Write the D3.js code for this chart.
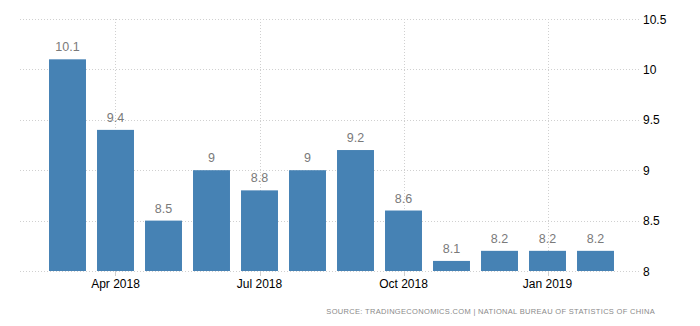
<!DOCTYPE html>
<html>
<head>
<meta charset="utf-8">
<script src="https://cdn.jsdelivr.net/npm/d3@7"></script>
<style>
  html, body { margin: 0; padding: 0; background: #fff; }
  svg { display: block; font-family: "Liberation Sans", Arial, sans-serif; }
</style>
</head>
<body>
<svg id="chart" width="700" height="326"></svg>
<script>
// Monthly series, Mar 2018 – Feb 2019
const months = ["Mar 2018", "Apr 2018", "May 2018", "Jun 2018", "Jul 2018", "Aug 2018",
                "Sep 2018", "Oct 2018", "Nov 2018", "Dec 2018", "Jan 2019", "Feb 2019"];
const values = [10.1, 9.4, 8.5, 9, 8.8, 9, 9.2, 8.6, 8.1, 8.2, 8.2, 8.2];
const xTickMonths = ["Apr 2018", "Jul 2018", "Oct 2018", "Jan 2019"];
const yTicks = [8, 8.5, 9, 9.5, 10, 10.5];
const sourceText = "SOURCE: TRADINGECONOMICS.COM | NATIONAL BUREAU OF STATISTICS OF CHINA";

const svg = d3.select("#chart");

const x = d3.scaleBand().domain(months).range([43.5, 619.5]).paddingInner(0.23).paddingOuter(0.115);
const y = d3.scaleLinear().domain([8, 10.5]).range([271, 19]);

const gridLeft = 20, gridRight = 640;

// horizontal grid
svg.append("g").selectAll("line").data(yTicks).join("line")
  .attr("x1", gridLeft).attr("x2", gridRight)
  .attr("y1", d => Math.round(y(d)) + 0.5).attr("y2", d => Math.round(y(d)) + 0.5)
  .attr("stroke", "#d0d0d0").attr("stroke-dasharray", "1,2");

// vertical grid at labelled months
svg.append("g").selectAll("line").data(xTickMonths).join("line")
  .attr("x1", d => Math.round(x(d) + x.bandwidth() / 2) + 0.5)
  .attr("x2", d => Math.round(x(d) + x.bandwidth() / 2) + 0.5)
  .attr("y1", y(10.5)).attr("y2", y(8))
  .attr("stroke", "#d0d0d0").attr("stroke-dasharray", "1,2");

// bars
svg.append("g").selectAll("rect").data(values).join("rect")
  .attr("x", (d, i) => x(months[i]))
  .attr("width", x.bandwidth())
  .attr("y", d => y(d))
  .attr("height", d => y(8) - y(d))
  .attr("fill", "#4682b4");

// value labels
svg.append("g").selectAll("text").data(values).join("text")
  .attr("x", (d, i) => x(months[i]) + x.bandwidth() / 2)
  .attr("y", d => y(d) - 8)
  .attr("text-anchor", "middle")
  .attr("font-size", 12.5)
  .attr("fill", "#7a7a7a")
  .text(d => d);

// x axis ticks and labels
const xAxis = svg.append("g");
xAxis.selectAll("line").data(xTickMonths).join("line")
  .attr("x1", d => Math.round(x(d) + x.bandwidth() / 2) + 0.5)
  .attr("x2", d => Math.round(x(d) + x.bandwidth() / 2) + 0.5)
  .attr("y1", y(8)).attr("y2", y(8) + 5)
  .attr("stroke", "#cfcfcf");
xAxis.selectAll("text").data(xTickMonths).join("text")
  .attr("x", d => x(d) + x.bandwidth() / 2)
  .attr("y", 288)
  .attr("text-anchor", "middle")
  .attr("font-size", 12)
  .attr("fill", "#000")
  .text(d => d);

// y axis labels on the right
svg.append("g").selectAll("text").data(yTicks).join("text")
  .attr("x", 643)
  .attr("y", d => y(d) + 4.5)
  .attr("font-size", 12)
  .attr("fill", "#000")
  .text(d => d);

// source line
svg.append("text")
  .attr("x", 655).attr("y", 314)
  .attr("text-anchor", "end")
  .attr("font-size", 7.5)
  .attr("letter-spacing", 0.32)
  .attr("fill", "#8a8a8a")
  .text(sourceText);
</script>
</body>
</html>
